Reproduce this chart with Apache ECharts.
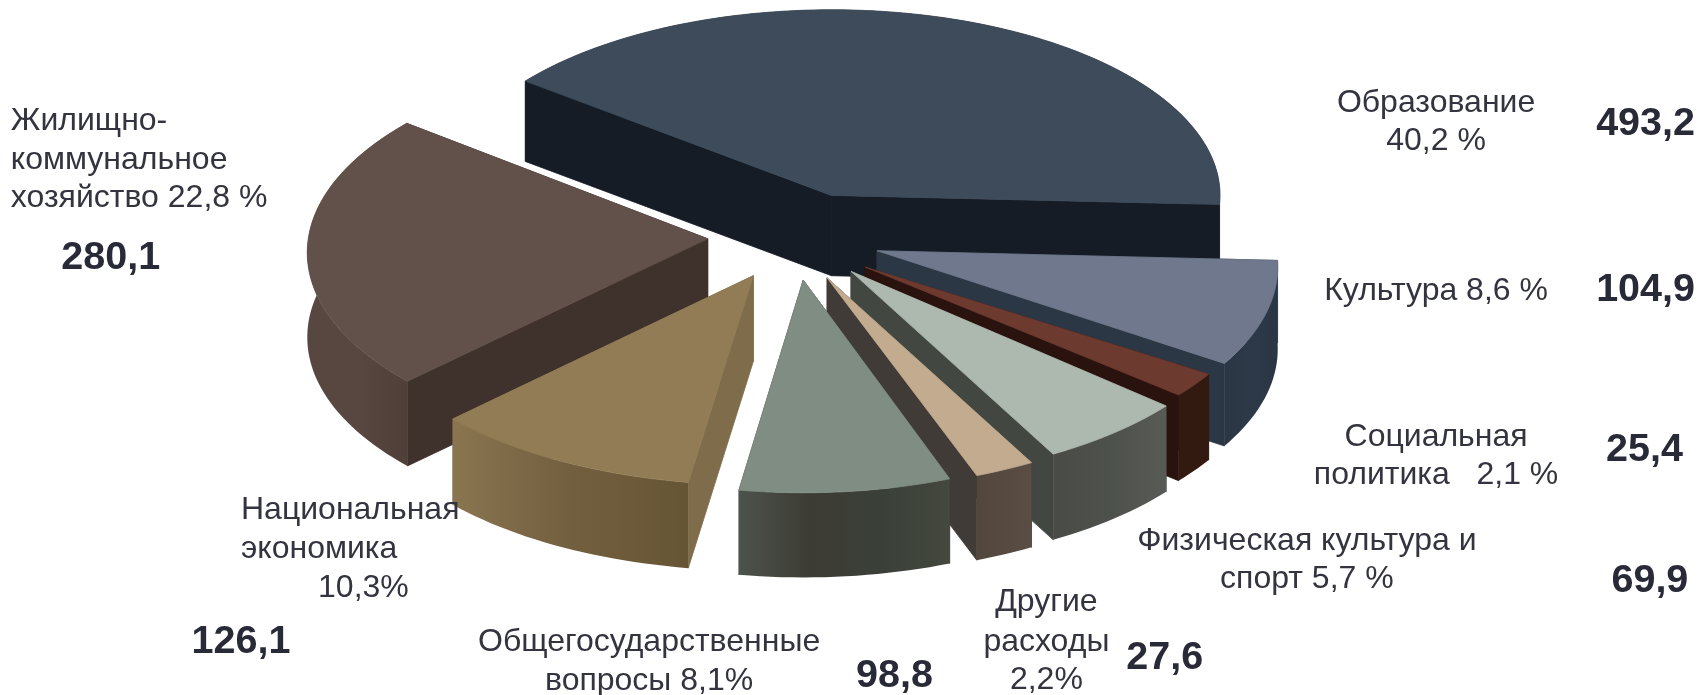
<!DOCTYPE html>
<html>
<head>
<meta charset="utf-8">
<style>html,body{margin:0;padding:0;background:#fff}#c{width:1702px;height:695px}</style>
<script src="https://cdn.jsdelivr.net/npm/echarts@6/dist/echarts.min.js"></script>
</head>
<body>
<div id="c"></div>
<script>
// ---- data ----
const categories = ['Образование','Культура','Социальная политика','Физическая культура и спорт','Другие расходы','Общегосударственные вопросы','Национальная экономика','Жилищно-коммунальное хозяйство'];
const values = [493.2,104.9,25.4,69.9,27.6,98.8,126.1,280.1];
const valueTexts = ['493,2','104,9','25,4','69,9','27,6','98,8','126,1','280,1'];
const labelLines = [
  ['Образование','40,2 %'],
  ['Культура 8,6 %'],
  ['Социальная','политика   2,1 %'],
  ['Физическая культура и','спорт 5,7 %'],
  ['Другие','расходы','2,2%'],
  ['Общегосударственные','вопросы 8,1%'],
  ['Национальная','экономика','10,3%'],
  ['Жилищно-','коммунальное','хозяйство 22,8 %']
];

// ---- layout / style (all in 1568-wide design units, scaled by K) ----
const K = 1702/1568;
const START = -142;
const drawOrder = [0,7,6,1,2,3,4,5];
const apex = [[766,180],[808,231],[797,246],[784,250],[762,256],[740,258],[694,254],[652,220]];
const radii = [[358,171,0],[368,181,.08],[364,172,.08],[366,181,.08],[370,183,.08],[362,184,.08],[366,181,.08],[368,180,.071]];
const depthOf = [74,76,79,79,78,78,79,78];
const topColor = ['#3d4b5a','#6f788c','#6d3a30','#adb8ae','#c2ab8f','#7f8d82','#917c56','#62514a'];
const wallColor = ['#161c26','#2c3745','#2a130e','#424741','#403b36','#3a403a','#7f6c4a','#3f312c'];
const outerStops = [
  ['#161c26','#161c26'],
  ['#2b3645','#2d3848','#2b3645'],
  ['#331a10','#331a10'],
  ['#4a4b47','#4d514b','#585a56'],
  ['#52463d','#5a4e44'],
  ['#4c534c','#3d3c34','#3a4038','#44483f'],
  ['#8a7550','#725f3f','#665534'],
  ['#574740','#574740','#4f3f38']
];
const textPos = [
  {lines:[[1323,93,'center'],[1323,128,'center']], val:[1516,112]},
  {lines:[[1323,266,'center']], val:[1516,265]},
  {lines:[[1323,401,'center'],[1323,436,'center']], val:[1515,413]},
  {lines:[[1204,497,'center'],[1204,532,'center']], val:[1520,533]},
  {lines:[[964,553,'center'],[964,590,'center'],[964,625,'center']], val:[1073,604]},
  {lines:[[598,590,'center'],[598,626,'center']], val:[824,621]},
  {lines:[[222,468,'left'],[222,504,'left'],[293,540,'left']], val:[222,590]},
  {lines:[[10,110,'left'],[10,146,'left'],[10,181,'left']], val:[102,236]}
];

const total = values.reduce((a,b)=>a+b,0);
let acc = 0;
const before = values.map(v=>{const b=acc; acc+=v; return b;});
const rows = drawOrder.map(i=>[values[i],before[i],i]);

function renderSlice(params, api){
  const value = api.value(0), cum = api.value(1), i = api.value(2);
  const a0 = START + cum/total*360, a1 = a0 + value/total*360;
  const [cx,cy] = apex[i], [rx,ry,p] = radii[i], d = depthOf[i];
  const pt = (deg,dz)=>{
    const t = deg*Math.PI/180, s = Math.sin(t);
    const ryy = i===0 ? ry : ry*(1+.065*s);
    return [(cx+rx*(1+p*s)*Math.cos(t))*K,(cy+ryy*s+dz)*K];
  };
  const c0 = [cx*K,cy*K], c1 = [cx*K,(cy+d)*K];
  const arcTop = [], arcBot = [];
  const n = Math.max(4,Math.ceil((a1-a0)/1.5));
  for(let k=0;k<=n;k++){
    const deg = a0+(a1-a0)*k/n;
    arcTop.push(pt(deg,0)); arcBot.push(pt(deg,d));
  }
  const poly = (points,fill,stroke)=>({type:'polygon',shape:{points},style:{fill,stroke:stroke||null,lineWidth:stroke?0.8:0}});
  const stops = outerStops[i];
  const outerFill = {type:'linear',x:0,y:0,x2:1,y2:0,colorStops:stops.map((c,k)=>({offset:k/(stops.length-1),color:c}))};
  return {type:'group',children:[
    poly([c0,arcTop[0],arcBot[0],c1],wallColor[i],wallColor[i]),
    poly([c0,arcTop[n],arcBot[n],c1],wallColor[i],wallColor[i]),
    poly(arcTop.concat(arcBot.slice().reverse()),outerFill),
    poly([c0].concat(arcTop),topColor[i],topColor[i])
  ]};
}

const textEls = [];
const FS = 32, FV = 39.5, DY = 2;
labelLines.forEach((lines,i)=>{
  lines.forEach((line,j)=>{
    const [x,y,align] = textPos[i].lines[j];
    textEls.push({type:'text',x:x*K,y:(y+DY)*K,z:10,style:{text:line,font:FS+'px "Liberation Sans"',fill:'#33343f',textAlign:align,textVerticalAlign:'middle'}});
  });
  const [vx,vy] = textPos[i].val;
  textEls.push({type:'text',x:vx*K,y:(vy+DY)*K,z:10,style:{text:valueTexts[i],font:'bold '+FV+'px "Liberation Sans"',fill:'#282a38',textAlign:'center',textVerticalAlign:'middle'}});
});

const chart = echarts.init(document.getElementById('c'));
chart.setOption({
  animation:false,
  backgroundColor:'#fff',
  graphic:textEls,
  series:[{type:'custom',coordinateSystem:'none',renderItem:renderSlice,data:rows,silent:true,clip:false}]
});
</script>
</body>
</html>
